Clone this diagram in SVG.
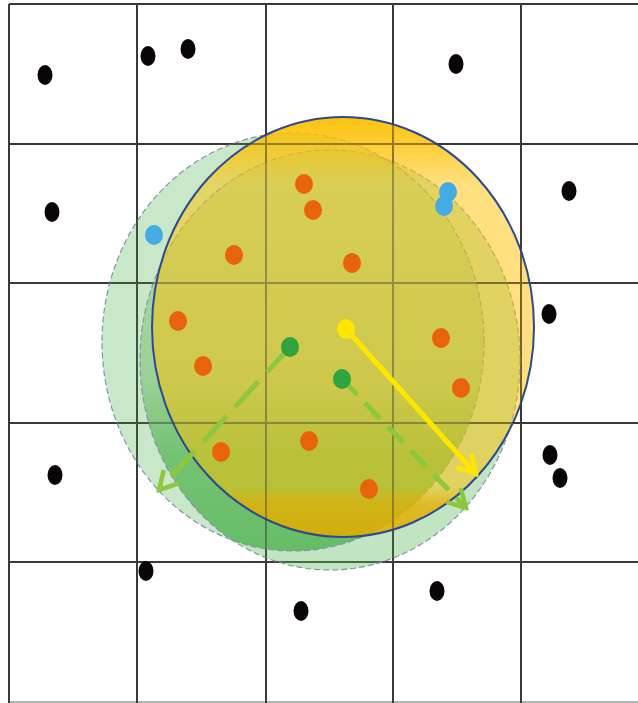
<svg xmlns="http://www.w3.org/2000/svg" width="638" height="703" viewBox="0 0 638 703">
<style>
.grid line{stroke:#3a3a3a;stroke-width:2}
.blk{fill:#0b0606}
.org{fill:#e8630c}
.blu{fill:#45abe2}
.grn{fill:#2ea33e}
.ylw{fill:#ffe600}
.dash{fill:none;stroke:#8494aa;stroke-width:1.2;stroke-dasharray:6 3}
</style>
<defs>
<linearGradient id="gYel" x1="0" y1="0" x2="0" y2="1">
<stop offset="0" stop-color="#fbbf00" stop-opacity="0.95"/>
<stop offset="0.06" stop-color="#fcc000" stop-opacity="0.8"/>
<stop offset="0.16" stop-color="#ffc20a" stop-opacity="0.52"/>
<stop offset="0.88" stop-color="#ffc000" stop-opacity="0.5"/>
<stop offset="0.92" stop-color="#e8b000" stop-opacity="0.8"/>
<stop offset="1" stop-color="#e0ac00" stop-opacity="0.88"/>
</linearGradient>
<linearGradient id="gInt" x1="0" y1="0" x2="0" y2="1">
<stop offset="0" stop-color="#b5ddae"/>
<stop offset="0.55" stop-color="#9ad095"/>
<stop offset="0.72" stop-color="#6cbf6c"/>
<stop offset="1" stop-color="#5ab75a"/>
</linearGradient>
<clipPath id="clipA"><ellipse cx="293" cy="342" rx="191" ry="209"/></clipPath>
<marker id="mY" viewBox="0 0 24 24" refX="21" refY="12" markerWidth="24" markerHeight="24" markerUnits="userSpaceOnUse" orient="auto">
<path d="M3,2 L21,12 L3,22" fill="none" stroke="#ffe600" stroke-width="4.5"/>
</marker>
<marker id="mG" viewBox="0 0 24 24" refX="21" refY="12" markerWidth="24" markerHeight="24" markerUnits="userSpaceOnUse" orient="auto">
<path d="M3,2 L21,12 L3,22" fill="none" stroke="#8dc63f" stroke-width="4.5"/>
</marker>
</defs>
<rect width="638" height="703" fill="#ffffff"/>
<g id="grid" class="grid">
<line x1="9" y1="4" x2="638" y2="4"/>
<line x1="9" y1="144" x2="638" y2="144"/>
<line x1="9" y1="283" x2="638" y2="283"/>
<line x1="9" y1="423" x2="638" y2="423"/>
<line x1="9" y1="562" x2="638" y2="562"/>
<line x1="9" y1="702" x2="638" y2="702" style="stroke:#9a9a9a;stroke-width:1.5"/>
<line x1="9" y1="4" x2="9" y2="703"/>
<line x1="137" y1="4" x2="137" y2="703"/>
<line x1="266" y1="4" x2="266" y2="703"/>
<line x1="393" y1="4" x2="393" y2="703"/>
<line x1="521" y1="4" x2="521" y2="703"/>
</g>
<g id="circleA">
<ellipse cx="293" cy="342" rx="191" ry="209" fill="#5cb85c" fill-opacity="0.33"/>
</g>
<g id="circleB">
<ellipse cx="330" cy="360" rx="190" ry="210" fill="#5cb85c" fill-opacity="0.38"/>
</g>
<g id="overlapAB">
<ellipse cx="330" cy="360" rx="190" ry="210" fill="url(#gInt)" fill-opacity="0.85" clip-path="url(#clipA)"/>
<ellipse cx="293" cy="342" rx="191" ry="209" class="dash"/>
<ellipse cx="330" cy="360" rx="190" ry="210" class="dash"/>
</g>
<g id="circleYellow">
<ellipse cx="343" cy="327" rx="191" ry="210" fill="url(#gYel)" stroke="#2e4a8e" stroke-width="2"/>
</g>
<g id="gridShade" class="grid" opacity="0.4">
<line x1="137" y1="144" x2="521" y2="144"/>
<line x1="100" y1="283" x2="540" y2="283"/>
<line x1="100" y1="423" x2="540" y2="423"/>
<line x1="137" y1="110" x2="137" y2="562"/>
<line x1="266" y1="110" x2="266" y2="562"/>
<line x1="393" y1="110" x2="393" y2="562"/>
<line x1="521" y1="110" x2="521" y2="562"/>
</g>
<g id="connectors">
<line x1="346" y1="329" x2="476" y2="474" stroke="#ffe600" stroke-width="5" marker-end="url(#mY)"/>
<line x1="290" y1="347" x2="159" y2="490" stroke="#8dc63f" stroke-width="5" stroke-dasharray="34 13" marker-end="url(#mG)"/>
<line x1="342" y1="379" x2="466" y2="508" stroke="#8dc63f" stroke-width="5" stroke-dasharray="22 11" marker-end="url(#mG)"/>
</g>
<g id="blackDots" class="blk">
<ellipse cx="45" cy="75" rx="7.5" ry="10"/>
<ellipse cx="148" cy="56" rx="7.5" ry="10"/>
<ellipse cx="188" cy="49" rx="7.5" ry="10"/>
<ellipse cx="456" cy="64" rx="7.5" ry="10"/>
<ellipse cx="52" cy="212" rx="7.5" ry="10"/>
<ellipse cx="569" cy="191" rx="7.5" ry="10"/>
<ellipse cx="549" cy="314" rx="7.5" ry="10"/>
<ellipse cx="55" cy="475" rx="7.5" ry="10"/>
<ellipse cx="550" cy="455" rx="7.5" ry="10"/>
<ellipse cx="560" cy="478" rx="7.5" ry="10"/>
<ellipse cx="146" cy="571" rx="7.5" ry="10"/>
<ellipse cx="301" cy="611" rx="7.5" ry="10"/>
<ellipse cx="437" cy="591" rx="7.5" ry="10"/>
</g>
<g id="blueDots" class="blu">
<ellipse cx="154" cy="235" rx="9" ry="10"/>
<ellipse cx="448" cy="192" rx="9" ry="10"/>
<ellipse cx="444" cy="206" rx="9" ry="10"/>
</g>
<g id="orangeDots" class="org">
<ellipse cx="304" cy="184" rx="9" ry="10"/>
<ellipse cx="313" cy="210" rx="9" ry="10"/>
<ellipse cx="234" cy="255" rx="9" ry="10"/>
<ellipse cx="352" cy="263" rx="9" ry="10"/>
<ellipse cx="178" cy="321" rx="9" ry="10"/>
<ellipse cx="203" cy="366" rx="9" ry="10"/>
<ellipse cx="441" cy="338" rx="9" ry="10"/>
<ellipse cx="461" cy="388" rx="9" ry="10"/>
<ellipse cx="221" cy="452" rx="9" ry="10"/>
<ellipse cx="309" cy="441" rx="9" ry="10"/>
<ellipse cx="369" cy="489" rx="9" ry="10"/>
</g>
<g id="centers">
<ellipse class="grn" cx="290" cy="347" rx="9" ry="10"/>
<ellipse class="grn" cx="342" cy="379" rx="9" ry="10"/>
<ellipse class="ylw" cx="346" cy="329" rx="9" ry="10"/>
</g>
</svg>
